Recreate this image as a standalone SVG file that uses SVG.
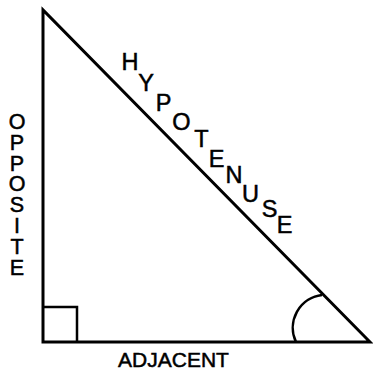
<svg xmlns="http://www.w3.org/2000/svg" width="373" height="371" viewBox="0 0 373 371">
<style>
.ln{fill:none;stroke:#000;stroke-width:3;stroke-linejoin:miter}
.thin{fill:none;stroke:#000;stroke-width:2.5}
text{font-family:"Liberation Sans",Arial,sans-serif;fill:#000;stroke:#000;stroke-width:0.5;text-anchor:middle}
.h{font-size:23.5px}
.v{font-size:21.5px;writing-mode:vertical-rl;text-orientation:upright;letter-spacing:-3.2px;text-anchor:start}
.a{font-size:21px}
</style>
<rect width="373" height="371" fill="#fff"/>
<g id="triangle">
<path class="ln" d="M43,10 L43,342 L370,342 Z"/>
</g>
<g id="right-angle">
<path class="thin" d="M43,307 L77,307 L77,342"/>
</g>
<g id="angle-arc">
<path class="thin" d="M296,342 A33,33 0 0 1 322,295"/>
</g>
<g id="hypotenuse-label" class="h">
<text x="130" y="70">H</text>
<text x="146" y="91">Y</text>
<text x="163.5" y="111">P</text>
<text x="181.5" y="130">O</text>
<text x="201.5" y="147">T</text>
<text x="216.5" y="167">E</text>
<text x="234" y="183">N</text>
<text x="250.5" y="202">U</text>
<text x="269.5" y="217">S</text>
<text x="284.5" y="233">E</text>
</g>
<g id="opposite-label">
<text class="v" x="17" y="110">OPPOSITE</text>
</g>
<g id="adjacent-label">
<text class="a" x="173.5" y="367">ADJACENT</text>
</g>
</svg>
